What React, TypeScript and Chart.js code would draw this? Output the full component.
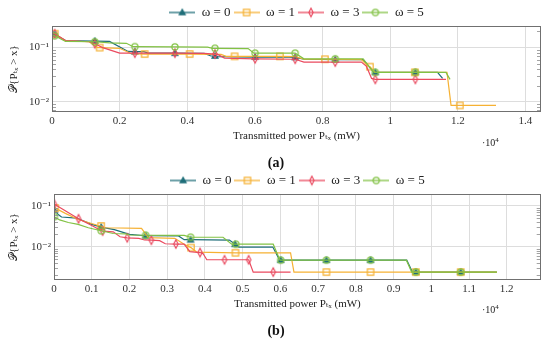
import React, { useEffect, useRef } from 'react';
import { Chart, registerables } from 'chart.js';

Chart.register(...registerables);

const FONT = "'Liberation Serif', 'DejaVu Serif', serif";
const SERIES_LABELS = ['ω = 0', 'ω = 1', 'ω = 3', 'ω = 5'];
const SERIES_COLORS = ['#1f6e79', '#f6b133', '#ea4a5f', '#82c244'];
const SERIES_MARKERS = ['triangle', 'square', 'diamond', 'circle'];
const X_TITLE = 'Transmitted power Pₜₓ (mW)';
const Y_TITLE = '𝒫{Pₜₓ > x}';

// ---------- panel (a) ----------
const A_X_TICKS = [0, 0.2, 0.4, 0.6, 0.8, 1, 1.2, 1.4];
const A_Y_TICKS = [0.01, 0.1];
const A_Y_TICK_LABELS = ['10⁻²', '10⁻¹'];
const A_X_RANGE = [0, 1.446];
const A_Y_RANGE = [0.0065, 0.25];

const A_W0_X = [0, 0.008, 0.04, 0.1265, 0.17, 0.225, 0.245, 0.272, 0.285, 0.3635, 0.45, 0.47, 0.482, 0.49, 0.6005, 0.7, 0.719, 0.745, 0.8375, 0.92, 0.95, 0.956, 1.0745, 1.14, 1.155];
const A_W0_Y = [0.182, 0.175, 0.135, 0.132, 0.13, 0.085, 0.084, 0.084, 0.079, 0.079, 0.078, 0.07, 0.07, 0.068, 0.067, 0.067, 0.066, 0.061, 0.06, 0.06, 0.036, 0.035, 0.035, 0.035, 0.027];
const A_W0_M = [0, 1, 0, 1, 0, 0, 1, 0, 0, 1, 0, 0, 1, 0, 1, 0, 1, 0, 1, 0, 0, 1, 1, 0, 0];

const A_W1_X = [0, 0.008, 0.04, 0.11, 0.135, 0.141, 0.2, 0.235, 0.274, 0.407, 0.5, 0.515, 0.54, 0.674, 0.72, 0.745, 0.807, 0.915, 0.935, 0.94, 0.955, 1.073, 1.168, 1.18, 1.206, 1.313];
const A_W1_Y = [0.185, 0.18, 0.133, 0.128, 0.1, 0.1, 0.097, 0.077, 0.076, 0.076, 0.075, 0.069, 0.069, 0.069, 0.068, 0.061, 0.061, 0.06, 0.045, 0.0445, 0.035, 0.035, 0.035, 0.0086, 0.0086, 0.0086];
const A_W1_M = [0, 1, 0, 0, 0, 1, 0, 0, 1, 1, 0, 0, 1, 1, 0, 0, 1, 0, 0, 1, 0, 1, 0, 0, 1, 0];

const A_W3_X = [0, 0.008, 0.04, 0.11, 0.1265, 0.15, 0.2, 0.245, 0.3635, 0.45, 0.482, 0.49, 0.51, 0.6005, 0.719, 0.745, 0.8375, 0.915, 0.93, 0.945, 0.956, 1.0745, 1.165];
const A_W3_Y = [0.19, 0.18, 0.135, 0.128, 0.118, 0.1, 0.079, 0.079, 0.079, 0.078, 0.076, 0.075, 0.064, 0.062, 0.061, 0.054, 0.054, 0.054, 0.045, 0.027, 0.026, 0.026, 0.026];
const A_W3_M = [0, 1, 0, 0, 1, 0, 0, 1, 1, 0, 1, 0, 0, 1, 1, 0, 1, 0, 0, 0, 1, 1, 0];

const A_W5_X = [0, 0.008, 0.04, 0.1265, 0.17, 0.22, 0.24, 0.245, 0.3635, 0.46, 0.475, 0.482, 0.58, 0.597, 0.6005, 0.719, 0.745, 0.8375, 0.92, 0.95, 0.956, 1.0745, 1.165, 1.177];
const A_W5_Y = [0.17, 0.165, 0.13, 0.128, 0.122, 0.12, 0.104, 0.104, 0.103, 0.102, 0.097, 0.097, 0.096, 0.079, 0.079, 0.079, 0.062, 0.062, 0.062, 0.036, 0.035, 0.035, 0.035, 0.026];
const A_W5_M = [0, 1, 0, 1, 0, 0, 0, 1, 1, 0, 0, 1, 0, 0, 1, 1, 0, 1, 0, 0, 1, 1, 0, 0];

// ---------- panel (b) ----------
const B_X_TICKS = [0, 0.1, 0.2, 0.3, 0.4, 0.5, 0.6, 0.7, 0.8, 0.9, 1, 1.1, 1.2];
const B_Y_TICKS = [0.01, 0.1];
const B_Y_TICK_LABELS = ['10⁻²', '10⁻¹'];
const B_X_RANGE = [0, 1.29];
const B_Y_RANGE = [0.00154, 0.193];

const B_W0_X = [0, 0.001, 0.012, 0.02, 0.06, 0.1, 0.125, 0.16, 0.2, 0.243, 0.33, 0.345, 0.362, 0.465, 0.48, 0.49, 0.58, 0.598, 0.601, 0.722, 0.839, 0.935, 0.95, 0.959, 1.078, 1.174];
const B_W0_Y = [0.085, 0.078, 0.06, 0.053, 0.05, 0.035, 0.03, 0.026, 0.02, 0.0185, 0.0183, 0.0148, 0.0148, 0.0145, 0.0115, 0.0098, 0.0098, 0.0047, 0.0047, 0.0047, 0.0047, 0.0047, 0.0024, 0.0024, 0.0024, 0.0024];
const B_W0_M = [0, 1, 0, 0, 0, 0, 1, 0, 0, 1, 0, 0, 1, 0, 1, 0, 0, 0, 1, 1, 1, 0, 0, 1, 1, 0];

const B_W1_X = [0, 0.003, 0.03, 0.064, 0.122, 0.125, 0.135, 0.232, 0.25, 0.32, 0.345, 0.363, 0.378, 0.481, 0.627, 0.636, 0.722, 0.839, 0.959, 1.078, 1.174];
const B_W1_Y = [0.1, 0.088, 0.065, 0.046, 0.032, 0.032, 0.029, 0.028, 0.0166, 0.016, 0.0115, 0.0095, 0.0074, 0.0071, 0.0071, 0.0024, 0.0024, 0.0024, 0.0024, 0.0024, 0.0024];
const B_W1_M = [0, 1, 0, 0, 0, 1, 0, 0, 0, 0, 0, 1, 0, 1, 0, 0, 1, 1, 1, 1, 0];

const B_W3_X = [0, 0.001, 0.02, 0.065, 0.1, 0.122, 0.129, 0.157, 0.175, 0.194, 0.225, 0.24, 0.258, 0.28, 0.295, 0.323, 0.345, 0.36, 0.387, 0.395, 0.405, 0.452, 0.516, 0.528, 0.581, 0.627];
const B_W3_Y = [0.12, 0.108, 0.085, 0.048, 0.033, 0.0255, 0.024, 0.023, 0.0175, 0.0165, 0.016, 0.0146, 0.0144, 0.014, 0.0118, 0.0116, 0.0115, 0.0076, 0.0072, 0.0068, 0.0048, 0.0048, 0.0048, 0.0024, 0.0024, 0.0024];
const B_W3_M = [0, 1, 0, 1, 0, 0, 1, 0, 0, 1, 0, 0, 1, 0, 0, 1, 0, 0, 1, 0, 0, 1, 1, 0, 1, 0];

const B_W5_X = [0, 0.001, 0.015, 0.038, 0.064, 0.091, 0.125, 0.157, 0.19, 0.2, 0.243, 0.345, 0.362, 0.448, 0.471, 0.482, 0.581, 0.599, 0.601, 0.722, 0.839, 0.934, 0.948, 0.959, 1.078, 1.174];
const B_W5_Y = [0.058, 0.054, 0.045, 0.039, 0.035, 0.029, 0.0245, 0.021, 0.0205, 0.0193, 0.019, 0.0188, 0.017, 0.017, 0.0115, 0.0115, 0.0115, 0.0047, 0.0047, 0.0047, 0.0047, 0.0047, 0.0024, 0.0024, 0.0024, 0.0024];
const B_W5_M = [0, 1, 0, 0, 0, 0, 1, 0, 0, 0, 1, 0, 1, 0, 0, 1, 0, 0, 1, 1, 1, 0, 0, 1, 1, 0];

type Series = { x: number[]; y: number[]; m: number[] };

const A_SERIES: Series[] = [
  { x: A_W0_X, y: A_W0_Y, m: A_W0_M },
  { x: A_W1_X, y: A_W1_Y, m: A_W1_M },
  { x: A_W3_X, y: A_W3_Y, m: A_W3_M },
  { x: A_W5_X, y: A_W5_Y, m: A_W5_M },
];
const B_SERIES: Series[] = [
  { x: B_W0_X, y: B_W0_Y, m: B_W0_M },
  { x: B_W1_X, y: B_W1_Y, m: B_W1_M },
  { x: B_W3_X, y: B_W3_Y, m: B_W3_M },
  { x: B_W5_X, y: B_W5_Y, m: B_W5_M },
];

function markerCanvas(kind: string, color: string, lineW = 0): HTMLCanvasElement {
  const w = lineW || 12;
  const h = 12;
  const c = document.createElement('canvas');
  c.width = w;
  c.height = h;
  const g = c.getContext('2d')!;
  const cx = w / 2;
  const cy = h / 2;
  if (lineW) {
    g.strokeStyle = color;
    g.lineWidth = 1.3;
    g.beginPath();
    g.moveTo(0, cy);
    g.lineTo(w, cy);
    g.stroke();
  }
  g.strokeStyle = color;
  g.fillStyle = color;
  g.lineWidth = 1.2;
  g.beginPath();
  if (kind === 'triangle') {
    g.moveTo(cx, cy - 3.1);
    g.lineTo(cx + 3.0, cy + 2.2);
    g.lineTo(cx - 3.0, cy + 2.2);
    g.closePath();
    g.fill();
    g.stroke();
  } else if (kind === 'square') {
    g.rect(cx - 3.2, cy - 3.2, 6.4, 6.4);
    g.stroke();
  } else if (kind === 'diamond') {
    g.moveTo(cx, cy - 4.2);
    g.lineTo(cx + 2.2, cy);
    g.lineTo(cx, cy + 4.2);
    g.lineTo(cx - 2.2, cy);
    g.closePath();
    g.stroke();
  } else {
    g.arc(cx, cy, 3.1, 0, Math.PI * 2);
    g.stroke();
  }
  return c;
}

const framePlugin = {
  id: 'frameMinor',
  afterLayout(chart: any) {
    if (chart.legend) {
      chart.legend.top += 3;
      chart.legend.bottom += 3;
    }
  },
  afterDraw(chart: any) {
    const { ctx, chartArea: a, scales } = chart;
    const ys = scales.y;
    ctx.save();
    ctx.strokeStyle = '#8c8c8c';
    ctx.lineWidth = 0.8;
    const lo = Math.floor(Math.log10(ys.min));
    const hi = Math.ceil(Math.log10(ys.max));
    ctx.beginPath();
    for (let d = lo; d < hi; d++) {
      for (let k = 2; k <= 9; k++) {
        const v = k * Math.pow(10, d);
        if (v <= ys.min || v >= ys.max) continue;
        const py = Math.round(ys.getPixelForValue(v)) + 0.5;
        ctx.moveTo(a.left, py);
        ctx.lineTo(a.left + 4, py);
        ctx.moveTo(a.right - 4, py);
        ctx.lineTo(a.right, py);
      }
    }
    ctx.stroke();
    ctx.strokeStyle = '#707070';
    ctx.lineWidth = 1;
    ctx.strokeRect(Math.round(a.left) + 0.5, Math.round(a.top) + 0.5, Math.round(a.width) - 1, Math.round(a.height) - 1);
    ctx.restore();
  },
};

type PanelOpts = {
  series: Series[];
  xTicks: number[];
  yTicks: number[];
  yLabels: string[];
  xRange: number[];
  yRange: number[];
  yWidth: number;
  padRight: number;
  padBottom: number;
};

function makeConfig(o: PanelOpts): any {
  const pointImgs = SERIES_MARKERS.map((k, i) => markerCanvas(k, SERIES_COLORS[i]));
  const legendImgs = SERIES_MARKERS.map((k, i) => markerCanvas(k, SERIES_COLORS[i], 26));
  const datasets = o.series.map((s, i) => ({
    label: SERIES_LABELS[i],
    data: s.x.map((x, j) => ({ x, y: s.y[j] })),
    borderColor: SERIES_COLORS[i],
    backgroundColor: SERIES_COLORS[i],
    borderWidth: 1.2,
    pointStyle: pointImgs[i],
    pointRadius: (ctx: any) => (s.m[ctx.dataIndex] ? 4 : 0),
    pointHoverRadius: 0,
    tension: 0,
    order: 3 - i,
  }));
  const tickFont = { family: FONT, size: 11 };
  return {
    type: 'line',
    data: { datasets },
    plugins: [framePlugin],
    options: {
      responsive: false,
      animation: false,
      events: [],
      layout: { padding: { left: 0, top: 0, right: o.padRight, bottom: o.padBottom } },
      plugins: {
        tooltip: { enabled: false },
        legend: {
          position: 'top',
          fullSize: false,
          labels: {
            usePointStyle: true,
            pointStyleWidth: 26,
            padding: 3,
            color: '#222',
            font: { family: FONT, size: 13 },
            generateLabels: (chart: any) =>
              chart.data.datasets.map((ds: any, i: number) => ({
                text: ds.label,
                pointStyle: legendImgs[i],
                fillStyle: 'transparent',
                strokeStyle: 'transparent',
                lineWidth: 0,
                hidden: false,
                datasetIndex: i,
                fontColor: '#222',
              })),
          },
        },
      },
      scales: {
        x: {
          type: 'linear',
          min: o.xRange[0],
          max: o.xRange[1],
          afterBuildTicks: (ax: any) => {
            ax.ticks = o.xTicks.map((v) => ({ value: v }));
          },
          afterFit: (s: any) => {
            s.height = 34;
          },
          ticks: {
            callback: (v: any) => String(v),
            font: tickFont,
            color: '#333',
            padding: 3,
            maxRotation: 0,
          },
          grid: { color: '#dddddd', drawTicks: false },
          border: { display: false },
          title: {
            display: true,
            text: X_TITLE,
            font: { family: FONT, size: 11 },
            color: '#222',
            padding: { top: 0, bottom: 3 },
          },
        },
        y: {
          type: 'logarithmic',
          min: o.yRange[0],
          max: o.yRange[1],
          afterBuildTicks: (ax: any) => {
            ax.ticks = o.yTicks.map((v) => ({ value: v }));
          },
          afterFit: (s: any) => {
            s.width = o.yWidth;
          },
          ticks: {
            callback: (_v: any, i: number) => o.yLabels[i],
            font: tickFont,
            color: '#333',
            padding: 3,
          },
          grid: { color: '#dddddd', drawTicks: false },
          border: { display: false },
          title: {
            display: true,
            text: Y_TITLE,
            font: { family: FONT, size: 11 },
            color: '#222',
            padding: { top: 8, bottom: 0 },
          },
        },
      },
    },
  };
}

export default function App() {
  const refA = useRef<HTMLCanvasElement>(null);
  const refB = useRef<HTMLCanvasElement>(null);

  useEffect(() => {
    document.body.style.margin = '0';
    const ca = new Chart(
      refA.current!,
      makeConfig({
        series: A_SERIES,
        xTicks: A_X_TICKS,
        yTicks: A_Y_TICKS,
        yLabels: A_Y_TICK_LABELS,
        xRange: A_X_RANGE,
        yRange: A_Y_RANGE,
        yWidth: 52,
        padRight: 9,
        padBottom: 24,
      })
    );
    const cb = new Chart(
      refB.current!,
      makeConfig({
        series: B_SERIES,
        xTicks: B_X_TICKS,
        yTicks: B_Y_TICKS,
        yLabels: B_Y_TICK_LABELS,
        xRange: B_X_RANGE,
        yRange: B_Y_RANGE,
        yWidth: 54,
        padRight: 9.3,
        padBottom: 30,
      })
    );
    return () => {
      ca.destroy();
      cb.destroy();
    };
  }, []);

  const small: React.CSSProperties = { position: 'absolute', font: `10px ${FONT}`, color: '#222', whiteSpace: 'nowrap', lineHeight: '12px' };
  const cap: React.CSSProperties = { position: 'absolute', left: 246, width: 60, textAlign: 'center', font: `bold 14px ${FONT}`, color: '#111', lineHeight: '16px' };

  return (
    <div style={{ position: 'absolute', left: 0, top: 0, width: 550, height: 344, background: '#fff', overflow: 'hidden' }}>
      <canvas ref={refA} width={550} height={170} style={{ position: 'absolute', left: 0, top: 0, display: 'block' }} />
      <canvas ref={refB} width={550} height={176} style={{ position: 'absolute', left: 0, top: 168, display: 'block' }} />
      <span style={{ ...small, left: 482, top: 134 }}>
        ·10<sup style={{ fontSize: 7 }}>4</sup>
      </span>
      <span style={{ ...small, left: 482, top: 301 }}>
        ·10<sup style={{ fontSize: 7 }}>4</sup>
      </span>
      <div style={{ ...cap, top: 155 }}>(a)</div>
      <div style={{ ...cap, top: 323 }}>(b)</div>
    </div>
  );
}
